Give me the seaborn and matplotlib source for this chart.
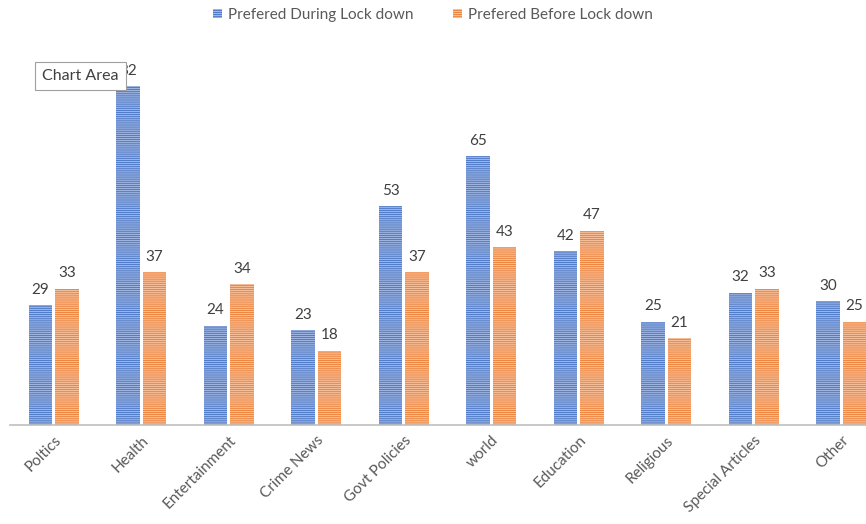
import matplotlib
matplotlib.use("Agg")
import matplotlib.pyplot as plt
import seaborn as sns
import pandas as pd

categories = ["Poltics", "Health", "Entertainment", "Crime News", "Govt Policies",
              "world", "Education", "Religious", "Special Articles", "Other"]
during = [29, 82, 24, 23, 53, 65, 42, 25, 32, 30]
before = [33, 37, 34, 18, 37, 43, 47, 21, 33, 25]
series_names = ["Prefered During Lock down", "Prefered Before Lock down"]

sns.set_theme(style="white")
plt.rcParams['font.family'] = ['Lato', 'DejaVu Sans']
plt.rcParams['hatch.linewidth'] = 0.9

df = pd.DataFrame({
    "category": categories * 2,
    "value": during + before,
    "series": [series_names[0]] * len(categories) + [series_names[1]] * len(categories),
})

fill_colors = {series_names[0]: "#4472C4", series_names[1]: "#ED7D31"}
stripe_colors = {series_names[0]: "#9DB4E0", series_names[1]: "#F6BE98"}

fig = plt.figure(figsize=(8.66, 5.24), dpi=100)
ax = fig.add_axes([10 / 866, 99 / 524, (866 - 10) / 866, 372 / 524])

sns.barplot(data=df, x="category", y="value", hue="series", palette=fill_colors,
            width=0.6, gap=0.1, ax=ax, legend=False, saturation=1)

for cont, name in zip(ax.containers, series_names):
    for bar in cont:
        bar.set_hatch("--------")
        bar.set_edgecolor(stripe_colors[name])
        bar.set_linewidth(0)
    ax.bar_label(cont, padding=6, fontsize=11, color="#404040")

ax.set_xlim(-0.5, -0.5 + (866 - 10) / 87.5)
ax.set_ylim(0, 90)
ax.set_xlabel("")
ax.set_ylabel("")
ax.set_yticks([])
for s in ["top", "right", "left"]:
    ax.spines[s].set_visible(False)
ax.spines["bottom"].set_color("#BFBFBF")
ax.spines["bottom"].set_linewidth(1.2)
ax.tick_params(axis="x", length=0, pad=6)
for lab in ax.get_xticklabels():
    lab.set_rotation(45)
    lab.set_ha("right")
    lab.set_rotation_mode("anchor")
    lab.set_fontsize(11)
    lab.set_color("#595959")

# legend
from matplotlib.patches import Patch
handles = [Patch(facecolor=fill_colors[n], hatch="--------", edgecolor=stripe_colors[n], linewidth=0)
           for n in series_names]
fig.legend(handles, series_names, loc="center", bbox_to_anchor=(0.5, 1 - 15 / 524), ncol=2,
           frameon=False, fontsize=11, handlelength=0.6, handleheight=0.6,
           columnspacing=2.6, handletextpad=0.4, labelcolor="#595959")

# tooltip box
fig.text(42 / 866, 1 - 76 / 524, "Chart Area", fontsize=11.5, color="#404040", va="center",
         bbox=dict(boxstyle="square,pad=0.45", facecolor="white", edgecolor="#A0A0A0", linewidth=0.8))

fig.savefig("out.png", dpi=100)
